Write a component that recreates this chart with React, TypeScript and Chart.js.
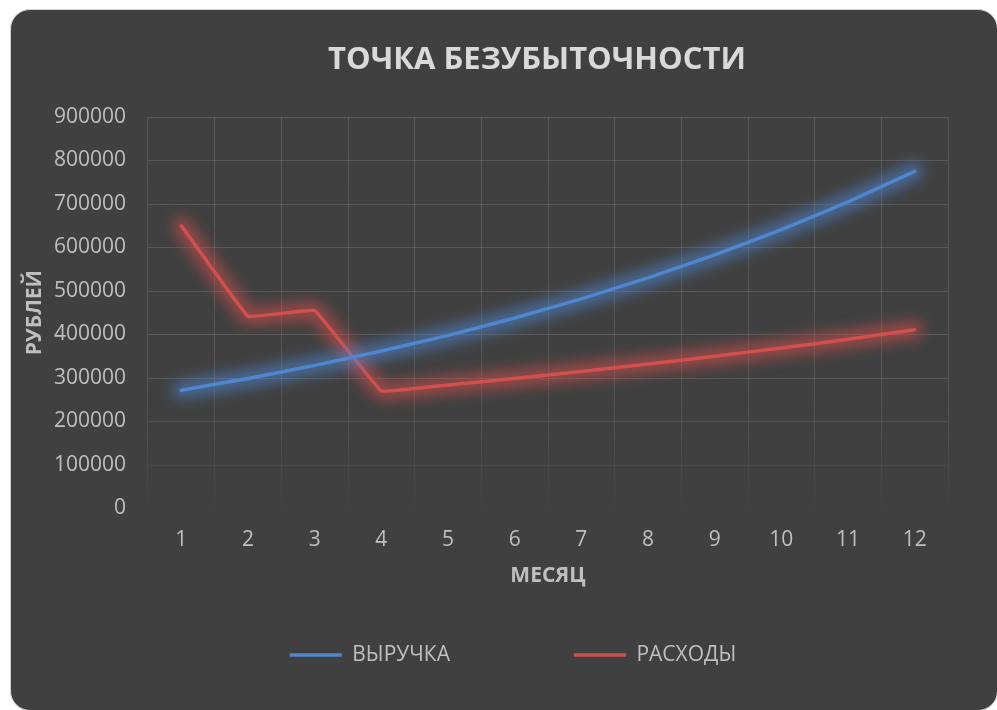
import React, { useEffect, useRef } from 'react';
import { Chart, registerables } from 'chart.js';

Chart.register(...registerables);

const TITLE = 'ТОЧКА БЕЗУБЫТОЧНОСТИ';
const X_TITLE = 'МЕСЯЦ';
const Y_TITLE = 'РУБЛЕЙ';
const MONTHS = ['1', '2', '3', '4', '5', '6', '7', '8', '9', '10', '11', '12'];
const REVENUE_LABEL = 'ВЫРУЧКА';
const REVENUE = [272000, 299000, 329000, 362000, 398000, 438000, 482000, 530000, 583000, 641000, 705000, 775000];
const COSTS_LABEL = 'РАСХОДЫ';
const COSTS = [650000, 442000, 455000, 270000, 284000, 299000, 315000, 332000, 350000, 369000, 389000, 411000];
const Y_MIN = 0;
const Y_MAX = 900000;
const Y_STEP = 100000;

const FONT = '"Open Sans", "Noto Sans", sans-serif';
const TEXT = '#bfbfbf';
const BLUE = '#4e86cf';
const RED = '#d14f4d';

const glowPlugin = {
  id: 'glow',
  beforeDatasetDraw(chart: any, args: any) {
    const ds: any = chart.data.datasets[args.index];
    const line: any = args.meta && args.meta.dataset;
    if (!line || !ds.glowColor) return;
    const ctx = chart.ctx;
    ctx.save();
    ctx.filter = 'blur(7px)';
    ctx.strokeStyle = ds.glowColor;
    ctx.lineWidth = 18;
    ctx.lineCap = 'round';
    ctx.lineJoin = 'round';
    ctx.beginPath();
    line.path(ctx);
    ctx.stroke();
    ctx.restore();
  },
};

const titlePlugin = {
  id: 'customTitle',
  afterDraw(chart: any, _args: any, opts: any) {
    const ctx = chart.ctx;
    ctx.save();
    ctx.font = `bold 31px ${FONT}`;
    ctx.fillStyle = '#d9d9d9';
    ctx.textAlign = 'center';
    ctx.textBaseline = 'alphabetic';
    ctx.fillText(opts.text, opts.x, opts.y);
    ctx.restore();
  },
};

function vGridColor(c: any) {
  const chart = c.chart;
  const a = chart.chartArea;
  if (!a) return 'rgba(255,255,255,0.13)';
  const g = chart.ctx.createLinearGradient(0, a.top, 0, a.bottom);
  g.addColorStop(0, 'rgba(255,255,255,0.13)');
  g.addColorStop(0.66, 'rgba(255,255,255,0.12)');
  g.addColorStop(1, 'rgba(255,255,255,0.01)');
  return g;
}

function hGridColor(c: any) {
  const v = c.tick ? c.tick.value : 0;
  if (v >= 300000) return 'rgba(255,255,255,0.13)';
  if (v >= 200000) return 'rgba(255,255,255,0.08)';
  if (v >= 100000) return 'rgba(255,255,255,0.045)';
  return 'rgba(255,255,255,0.025)';
}

export default function App() {
  const ref = useRef<HTMLCanvasElement>(null);

  useEffect(() => {
    if (!ref.current) return;
    const chart = new Chart(ref.current, {
      type: 'line',
      data: {
        labels: MONTHS,
        datasets: [
          {
            label: REVENUE_LABEL,
            data: REVENUE,
            borderColor: BLUE,
            backgroundColor: BLUE,
            borderWidth: 3.5,
            borderCapStyle: 'round',
            borderJoinStyle: 'round',
            pointRadius: 0,
            tension: 0.05,
            glowColor: 'rgba(78,134,207,0.6)',
          } as any,
          {
            label: COSTS_LABEL,
            data: COSTS,
            borderColor: RED,
            backgroundColor: RED,
            borderWidth: 3.5,
            borderCapStyle: 'round',
            borderJoinStyle: 'round',
            pointRadius: 0,
            tension: 0.05,
            glowColor: 'rgba(209,79,77,0.6)',
          } as any,
        ],
      },
      options: {
        responsive: false,
        maintainAspectRatio: false,
        animation: false,
        layout: { padding: { left: 15, right: 49, top: 107, bottom: 34.5 } },
        scales: {
          x: {
            offset: true,
            grid: { offset: true, drawTicks: false, color: vGridColor, lineWidth: 1 },
            border: { display: false },
            ticks: { color: TEXT, font: { family: FONT, size: 21 }, padding: 19, maxRotation: 0, autoSkip: false },
            title: {
              display: true,
              text: X_TITLE,
              color: TEXT,
              font: { family: FONT, size: 21, weight: 'bold' },
              padding: { top: 0, bottom: -16 },
            },
            afterFit: (s: any) => {
              s.height = 64;
            },
          },
          y: {
            min: Y_MIN,
            max: Y_MAX,
            grid: { drawTicks: false, color: hGridColor, lineWidth: 1 },
            border: { display: false },
            ticks: {
              stepSize: Y_STEP,
              color: TEXT,
              font: { family: FONT, size: 21 },
              padding: 22,
              callback: (v: any) => String(v),
            },
            title: {
              display: true,
              text: Y_TITLE,
              color: TEXT,
              font: { family: FONT, size: 21, weight: 'bold' },
              padding: { top: -4, bottom: 0 },
            },
            afterFit: (s: any) => {
              s.width = 122;
            },
          },
        },
        plugins: {
          legend: {
            position: 'bottom',
            labels: {
              usePointStyle: true,
              pointStyle: 'dash',
              pointStyleWidth: 104,
              color: TEXT,
              font: { family: FONT, size: 21 },
              padding: 72,
            },
          },
          tooltip: { enabled: false },
          customTitle: { text: TITLE, x: 526, y: 59 },
        } as any,
      },
      plugins: [glowPlugin, titlePlugin],
    });
    return () => chart.destroy();
  }, []);

  return (
    <div
      style={{
        position: 'fixed',
        left: 10,
        top: 9,
        width: 988,
        height: 702,
        boxSizing: 'border-box',
        border: '1px solid #d4d4d4',
        borderRadius: 20,
        background: '#404040',
        overflow: 'hidden',
      }}
    >
      <canvas ref={ref} width={986} height={700} style={{ display: 'block' }} />
    </div>
  );
}
